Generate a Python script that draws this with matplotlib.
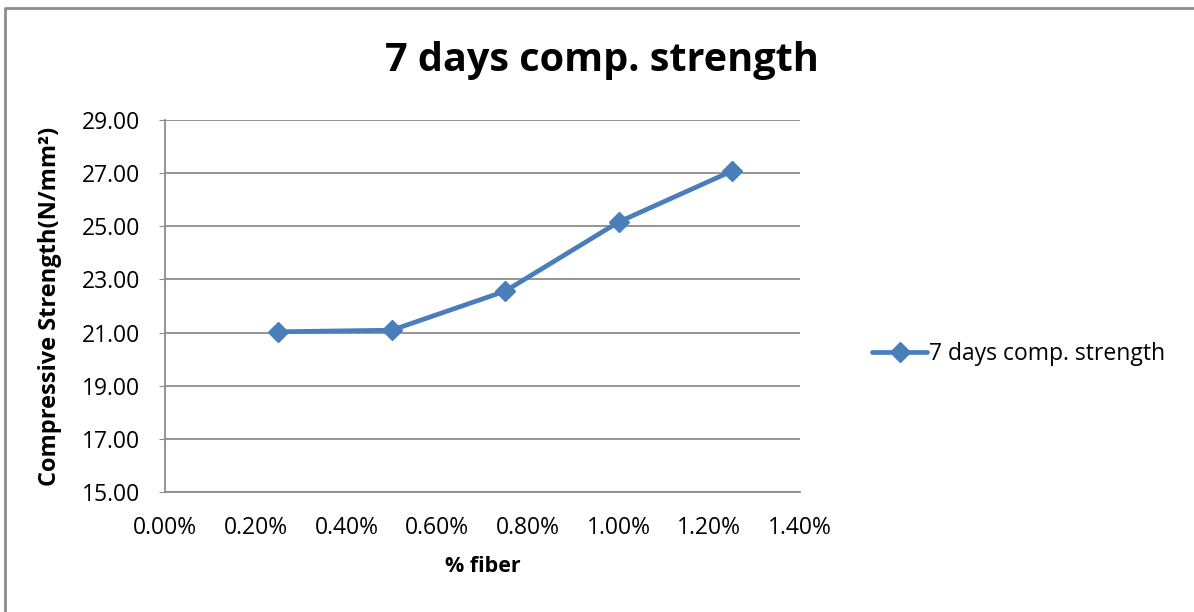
import matplotlib
matplotlib.use("Agg")
import matplotlib.pyplot as plt
import numpy as np
from matplotlib.ticker import FuncFormatter, MultipleLocator, FixedLocator
from matplotlib.lines import Line2D

plt.rcParams['font.family'] = ['Open Sans', 'DejaVu Sans']

fiber = [0.0025, 0.005, 0.0075, 0.010, 0.0125]
strength = [21.03, 21.09, 22.56, 25.16, 27.08]
series_name = "7 days comp. strength"
title = "7 days comp. strength"
xlabel = "% fiber"
ylabel = "Compressive Strength(N/mm²)"
yticks = [15, 17, 19, 21, 23, 25, 27, 29]

color = "#4A7EBB"
gray = '#8c8c8c'

fig = plt.figure(figsize=(11.94, 6.12), dpi=100)
ax = fig.add_axes([165/1194, 1-492/612, (800-165)/1194, (492-120)/612])

ax.plot(fiber, strength, color=color, lw=3.4, marker='D', markersize=10,
        label=series_name, solid_capstyle='round', clip_on=False)

ax.set_xlim(0, 0.014)
ax.set_ylim(15, 29)
ax.xaxis.set_major_locator(MultipleLocator(0.002))
ax.yaxis.set_major_locator(FixedLocator(yticks))
ax.xaxis.set_major_formatter(FuncFormatter(lambda v, p: f"{v*100:.2f}%"))
ax.yaxis.set_major_formatter(FuncFormatter(lambda v, p: f"{v:.2f}"))
ax.grid(axis='y', color=gray, lw=1.3)
ax.set_axisbelow(True)
for s in ['top', 'right']:
    ax.spines[s].set_visible(False)
for s in ['left', 'bottom']:
    ax.spines[s].set_color(gray)
    ax.spines[s].set_linewidth(1.3)
ax.tick_params(axis='both', colors=gray, labelcolor='black', labelsize=16.5,
               direction='out')
ax.tick_params(axis='x', length=0, pad=17)
ax.tick_params(axis='y', length=4, pad=14)

ax.set_xlabel(xlabel, fontsize=15.5, fontweight='bold', labelpad=12)
ax.set_ylabel(ylabel, fontsize=17, fontweight='bold', labelpad=14)
fig.text(602/1194, 1-60/612, title, fontsize=28.5, fontweight='bold',
         ha='center', va='center')

leg = fig.legend(loc='center left', bbox_to_anchor=(872/1194, 1-354/612),
                 frameon=False, fontsize=16.5, handlelength=2.4, handletextpad=0.1,
                 borderaxespad=0, borderpad=0)

fig.lines.append(Line2D([5/1194, 5/1194, 1.0], [0.0, 1-8/612, 1-8/612],
                        transform=fig.transFigure, color=gray, lw=2))

fig.savefig("out.png", dpi=100)
